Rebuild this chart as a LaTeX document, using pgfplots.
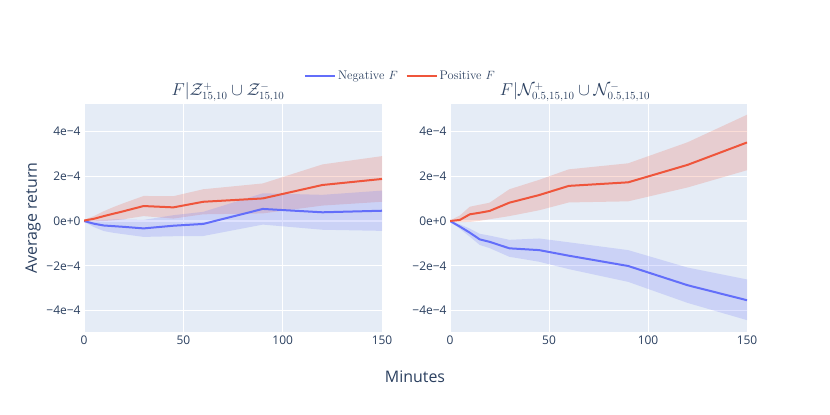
\documentclass[border=0pt]{standalone}
\usepackage{fontspec}
\setsansfont{Open Sans}
\usepackage{pgfplots}
\pgfplotsset{compat=1.18}
\usepackage{pgfplotstable}
\usepgfplotslibrary{fillbetween}
\definecolor{bgc}{HTML}{E5ECF6}
\definecolor{txt}{HTML}{2A3F5F}
\definecolor{pblue}{HTML}{636EFA}
\definecolor{pred}{HTML}{EF553B}

% values in units of 1e-4
\pgfplotstableread{
x m lo hi
0 0 -0.02 0.02
5 -0.12 -0.27 0.03
10 -0.20 -0.45 0.05
15 -0.23 -0.53 0.07
20 -0.26 -0.59 0.07
30 -0.33 -0.71 0.05
45 -0.21 -0.68 0.26
60 -0.13 -0.67 0.41
90 0.54 -0.16 1.24
120 0.39 -0.39 1.17
150 0.46 -0.44 1.36
}\LB
\pgfplotstableread{
x m lo hi
0 0.02 -0.01 0.05
5 0.10 -0.02 0.22
10 0.22 0.00 0.44
15 0.33 0.03 0.63
20 0.44 0.08 0.80
30 0.67 0.22 1.12
45 0.61 0.11 1.11
60 0.86 0.30 1.42
90 1.01 0.34 1.68
120 1.61 0.69 2.53
150 1.88 0.86 2.90
}\LR
\pgfplotstableread{
x m lo hi
0 0 -0.02 0.02
5 -0.25 -0.35 -0.15
10 -0.52 -0.70 -0.34
15 -0.82 -1.07 -0.57
20 -0.93 -1.21 -0.65
30 -1.22 -1.60 -0.84
45 -1.30 -1.82 -0.78
60 -1.55 -2.15 -0.95
90 -2.01 -2.72 -1.30
120 -2.87 -3.66 -2.08
150 -3.54 -4.43 -2.61
}\RB
\pgfplotstableread{
x m lo hi
0 0 -0.02 0.02
5 0.05 -0.05 0.25
10 0.30 -0.04 0.64
15 0.37 0.01 0.73
20 0.45 0.08 0.82
30 0.82 0.22 1.42
45 1.16 0.48 1.84
60 1.57 0.83 2.31
90 1.73 0.88 2.58
120 2.51 1.50 3.52
150 3.51 2.27 4.75
}\RR

\pgfplotsset{myax/.style={
  scale only axis, height=228bp,
  xmin=0, xmax=150, ymin=-4.96, ymax=5.23,
  axis background/.style={fill=bgc},
  axis line style={draw=none}, major tick length=0pt,
  xtick={0,50,100,150},
  ytick={-4,-2,0,2,4},
  yticklabels={−4e−4,−2e−4,0e+0,2e−4,4e−4},
  grid=major, grid style={white, line width=1bp},
  /pgf/number format/assume math mode=true,
  tick label style={font=\fontsize{12}{14}\sffamily, text=txt},
  extra y ticks={0}, extra y tick labels={},
  extra y tick style={grid style={white, line width=2bp}},
}}

\begin{document}
\begin{tikzpicture}

\begin{axis}[myax, at={(84bp,83bp)}, anchor=south west, width=298bp,
  legend style={at={(1.062,1.123)}, anchor=center, draw=none, fill=none,
    legend columns=2, font=\fontsize{12.5}{14}\selectfont, text=txt,
    /tikz/every even column/.append style={column sep=6bp}},
  legend image code/.code={\draw[#1] (0bp,0bp) -- (30bp,0bp);}]
  \addplot[draw=none, forget plot, name path=lrh] table[x=x,y=hi]{\LR};
  \addplot[draw=none, forget plot, name path=lrl] table[x=x,y=lo]{\LR};
  \addplot[fill=pred, fill opacity=0.2, draw=none, forget plot] fill between[of=lrh and lrl];
  \addplot[draw=none, forget plot, name path=lbh] table[x=x,y=hi]{\LB};
  \addplot[draw=none, forget plot, name path=lbl] table[x=x,y=lo]{\LB};
  \addplot[fill=pblue, fill opacity=0.2, draw=none, forget plot] fill between[of=lbh and lbl];
  \addplot[pblue, line width=2bp] table[x=x,y=m]{\LB};
  \addlegendentry{Negative $F$}
  \addplot[pred, line width=2bp] table[x=x,y=m]{\LR};
  \addlegendentry{Positive $F$}
\end{axis}

\begin{axis}[myax, at={(450bp,83bp)}, anchor=south west, width=297bp]
  \addplot[draw=none, forget plot, name path=rrh] table[x=x,y=hi]{\RR};
  \addplot[draw=none, forget plot, name path=rrl] table[x=x,y=lo]{\RR};
  \addplot[fill=pred, fill opacity=0.2, draw=none, forget plot] fill between[of=rrh and rrl];
  \addplot[draw=none, forget plot, name path=rbh] table[x=x,y=hi]{\RB};
  \addplot[draw=none, forget plot, name path=rbl] table[x=x,y=lo]{\RB};
  \addplot[fill=pblue, fill opacity=0.2, draw=none, forget plot] fill between[of=rbh and rbl];
  \addplot[pblue, line width=2bp] table[x=x,y=m]{\RB};
  \addplot[pred, line width=2bp] table[x=x,y=m]{\RR};
\end{axis}

\node[text=txt, font=\fontsize{16}{18}\selectfont] at (228bp,323bp)
  {$F|\mathcal{Z}^{+}_{15,10}\cup\mathcal{Z}^{-}_{15,10}$};
\node[text=txt, font=\fontsize{16}{18}\selectfont] at (575bp,323bp)
  {$F|\mathcal{N}^{+}_{0.5,15,10}\cup\mathcal{N}^{-}_{0.5,15,10}$};
\node[text=txt, font=\fontsize{16}{18}\sffamily, rotate=90] at (33bp,197bp) {Average return};
\node[text=txt, font=\fontsize{16}{18}\sffamily] at (415bp,38bp) {Minutes};
\path (0bp,0bp) rectangle (830bp,415bp);
\end{tikzpicture}
\end{document}
